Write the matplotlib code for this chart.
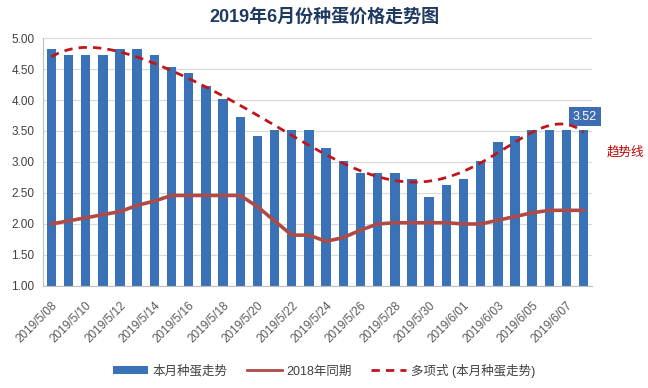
import numpy as np
import matplotlib
matplotlib.use("Agg")
import matplotlib.pyplot as plt
from matplotlib.patches import Patch
from matplotlib.lines import Line2D

plt.rcParams['font.family'] = ['Liberation Sans', 'Noto Sans CJK SC', 'DejaVu Sans']

dates = ["2019/5/08", "2019/5/09", "2019/5/10", "2019/5/11", "2019/5/12", "2019/5/13",
         "2019/5/14", "2019/5/15", "2019/5/16", "2019/5/17", "2019/5/18", "2019/5/19",
         "2019/5/20", "2019/5/21", "2019/5/22", "2019/5/23", "2019/5/24", "2019/5/25",
         "2019/5/26", "2019/5/27", "2019/5/28", "2019/5/29", "2019/5/30", "2019/5/31",
         "2019/6/01", "2019/6/02", "2019/6/03", "2019/6/04", "2019/6/05", "2019/6/06",
         "2019/6/07", "2019/6/08"]

price_2019 = [4.82, 4.72, 4.72, 4.72, 4.82, 4.82, 4.72, 4.54, 4.43, 4.22, 4.02, 3.72,
              3.42, 3.52, 3.52, 3.52, 3.22, 3.02, 2.82, 2.82, 2.82, 2.72, 2.43, 2.63,
              2.72, 3.02, 3.32, 3.42, 3.52, 3.52, 3.52, 3.52]

price_2018 = [2.00, 2.05, 2.10, 2.15, 2.20, 2.30, 2.37, 2.46, 2.46, 2.46, 2.46, 2.46,
              2.28, 2.05, 1.82, 1.82, 1.72, 1.78, 1.90, 2.00, 2.02, 2.02, 2.02, 2.02,
              2.00, 2.00, 2.06, 2.12, 2.18, 2.22, 2.22, 2.22]

label_bar = "本月种蛋走势"
label_2018 = "2018年同期"
label_trend = "多项式 (本月种蛋走势)"
title = "2019年6月份种蛋价格走势图"
trend_note = "趋势线"
yticks = [1.00, 1.50, 2.00, 2.50, 3.00, 3.50, 4.00, 4.50, 5.00]

x = np.arange(len(dates))
coef = np.polyfit(x, price_2019, 6)
xs = np.linspace(0, len(dates) - 1, 300)
trend = np.polyval(coef, xs)

fig = plt.figure(figsize=(6.48, 3.88), dpi=100)
ax = fig.add_axes([0.066, 0.263, 0.848, 0.639])

bar_color = "#3A72B8"
ax.bar(x, price_2019, width=0.55, color=bar_color, zorder=2, bottom=0)
ax.plot(x, price_2018, color="#B04A47", lw=2.6, zorder=3, solid_capstyle='round')
ax.plot(xs, trend, color="#C0151B", lw=2.0, ls=(0, (3, 2.2)), zorder=4)

ax.set_ylim(1.0, 5.0)
ax.set_xlim(-0.5, len(dates) - 0.5)
ax.set_yticks(yticks)
ax.set_yticklabels([f"{v:.2f}" for v in yticks], fontsize=8.5, color="#404040")
ax.yaxis.grid(True, color="#D9D9D9", lw=0.8, zorder=0)
ax.set_axisbelow(True)
ax.tick_params(axis='y', length=0, pad=6)
ax.tick_params(axis='x', length=0, pad=10)
ax.set_xticks(x[::2])
ax.set_xticklabels(dates[::2], rotation=45, ha='right', rotation_mode='anchor',
                   fontsize=8.5, color="#595959")
for s in ['top', 'right']:
    ax.spines[s].set_visible(False)
ax.spines['left'].set_color("#BFBFBF")
ax.spines['bottom'].set_color("#BFBFBF")

# data label on last bar
ax.annotate(f"{price_2019[-1]:.2f}", xy=(x[-1], price_2019[-1]), xytext=(1, 9.5),
            textcoords='offset points', ha='center', va='center', fontsize=9,
            color='white',
            bbox=dict(boxstyle='square,pad=0.3', fc="#3F6DB3", ec='none'))

fig.text(0.5, 0.955, title, ha='center', va='center', fontsize=13, fontweight='bold',
         color="#1F3A60")
fig.text(0.936, 0.607, trend_note, ha='left', va='center', fontsize=9, color="#C00000")

handles = [Patch(facecolor=bar_color, edgecolor='none'),
           Line2D([0], [0], color="#B04A47", lw=2),
           Line2D([0], [0], color="#C0151B", lw=2, ls=(0, (3, 2.2)))]
fig.legend(handles, [label_bar, label_2018, label_trend], loc='center',
           bbox_to_anchor=(0.5, 0.045), ncol=3, frameon=False, fontsize=9,
           handlelength=2.8, handleheight=0.6, columnspacing=1.5, handletextpad=0.4,
           labelcolor="#404040")

fig.savefig("out.png", dpi=100)
